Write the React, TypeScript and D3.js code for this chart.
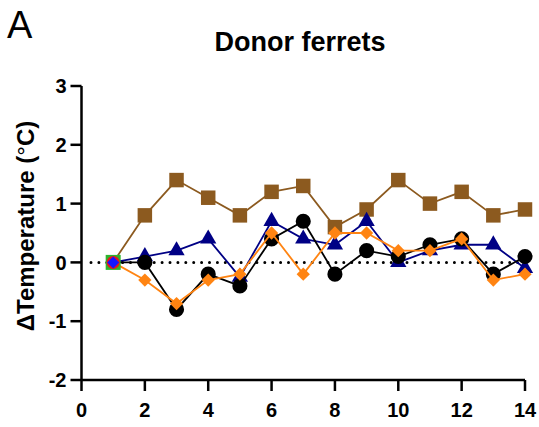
import * as d3 from "d3";

const WIDTH = 539;
const HEIGHT = 427;

const days = [1, 2, 3, 4, 5, 6, 7, 8, 9, 10, 11, 12, 13, 14];
const brownValues = [0, 0.8, 1.4, 1.1, 0.8, 1.2, 1.3, 0.6, 0.9, 1.4, 1.0, 1.2, 0.8, 0.9];
const blueValues = [0, 0.1, 0.2, 0.4, -0.25, 0.7, 0.4, 0.3, 0.7, 0.0, 0.2, 0.3, 0.3, -0.1];
const blackValues = [0, 0, -0.8, -0.2, -0.4, 0.4, 0.7, -0.2, 0.2, 0.1, 0.3, 0.4, -0.2, 0.1];
const orangeValues = [0, -0.3, -0.7, -0.3, -0.2, 0.5, -0.2, 0.5, 0.5, 0.2, 0.2, 0.4, -0.3, -0.2];
const xTicks = [0, 2, 4, 6, 8, 10, 12, 14];
const yTicks = [-2, -1, 0, 1, 2, 3];

const FONT = "'Liberation Sans', Arial, Helvetica, sans-serif";

type Series = { name: string; values: number[]; color: string; symbol: d3.SymbolType; size: number; rotate: number };

const series: Series[] = [
    { name: "brown", values: brownValues, color: "#8c5a1f", symbol: d3.symbolSquare, size: 210, rotate: 0 },
    { name: "blue", values: blueValues, color: "#000085", symbol: d3.symbolTriangle, size: 115, rotate: 0 },
    { name: "black", values: blackValues, color: "#000000", symbol: d3.symbolCircle, size: 180, rotate: 0 },
    { name: "orange", values: orangeValues, color: "#ff8412", symbol: d3.symbolSquare, size: 88, rotate: 45 },
];

export default function App() {
    const x = d3.scaleLinear().domain([0, 14]).range([81.5, 525]);
    const y = d3.scaleLinear().domain([-2, 3]).range([380, 86]);

    const line = d3
        .line<number>()
        .x((_, i) => x(days[i]))
        .y((d) => y(d));

    return (
        <svg
            width={WIDTH}
            height={HEIGHT}
            style={{ position: "absolute", left: 0, top: 0, background: "#fff" }}
            fontFamily={FONT}
        >
            <text x={7} y={38} fontSize={38} fill="#000">A</text>
            <text x={300} y={51} fontSize={27} fontWeight="bold" textAnchor="middle">
                Donor ferrets
            </text>

            {/* zero reference */}
            <line
                x1={x(0.3)}
                x2={x(14)}
                y1={y(0)}
                y2={y(0)}
                stroke="#000"
                strokeWidth={3}
                strokeDasharray="0 7.9"
                strokeLinecap="round"
            />

            {series.map((s) => (
                <g key={s.name}>
                    <path d={line(s.values) ?? ""} fill="none" stroke={s.color} strokeWidth={1.8} />
                    {s.values.map((v, i) =>
                        i === 0 ? null : (
                            <path
                                key={i}
                                d={d3.symbol().type(s.symbol).size(s.size)() ?? ""}
                                transform={`translate(${x(days[i])},${y(v)}) rotate(${s.rotate})`}
                                fill={s.color}
                            />
                        )
                    )}
                </g>
            ))}

            {/* stacked markers on day 1 */}
            <g transform={`translate(${x(days[0])},${y(0)})`}>
                <rect x={-7.5} y={-7.5} width={15} height={15} fill="#2db52d" />
                <circle r={6.5} fill="#e8141e" />
                <path d="M0,-6L6,0L0,6L-6,0Z" fill="#1414ff" />
            </g>

            {/* axes */}
            <g stroke="#000" strokeWidth={2.5} fill="none">
                <line x1={x(0)} x2={x(0)} y1={y(3)} y2={y(-2)} />
                <line x1={x(0)} x2={x(14)} y1={y(-2)} y2={y(-2)} />
                {yTicks.map((t) => (
                    <line key={t} x1={x(0) - 11} x2={x(0)} y1={y(t)} y2={y(t)} />
                ))}
                {xTicks.map((t) => (
                    <line key={t} x1={x(t)} x2={x(t)} y1={y(-2)} y2={y(-2) + 11} />
                ))}
            </g>
            <g fontSize={20} fontWeight="bold">
                {yTicks.map((t) => (
                    <text key={t} x={x(0) - 15} y={y(t)} dy="0.36em" textAnchor="end">
                        {t}
                    </text>
                ))}
                {xTicks.map((t) => (
                    <text key={t} x={x(t)} y={417} textAnchor="middle">
                        {t}
                    </text>
                ))}
            </g>
            <text
                transform={`translate(34,226) rotate(-90)`}
                textAnchor="middle"
                fontSize={24}
                fontWeight="bold"
            >
                ΔTemperature (<tspan fontWeight="normal">°</tspan>C)
            </text>
        </svg>
    );
}
